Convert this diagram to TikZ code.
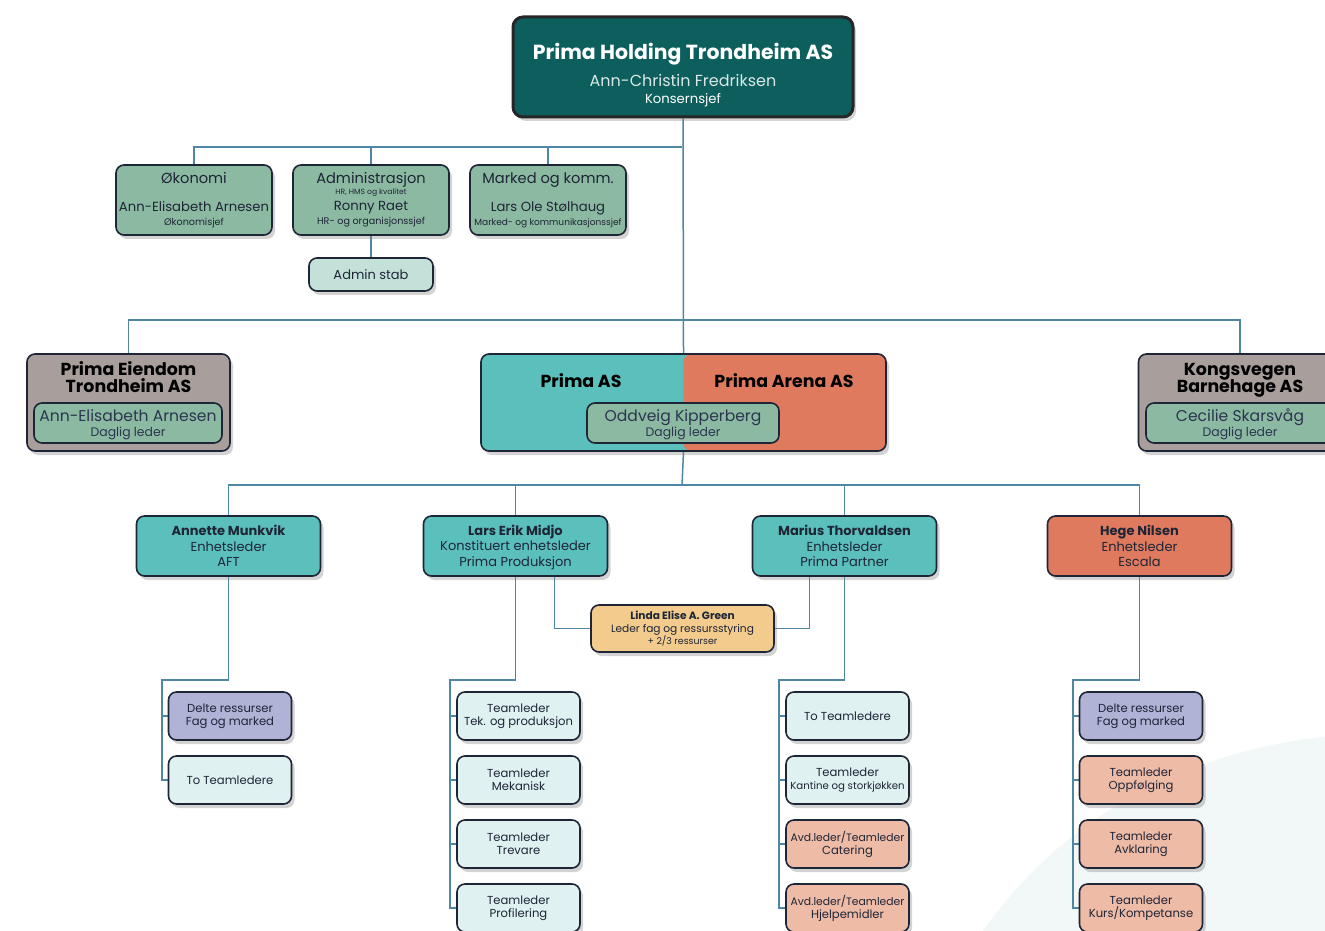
\documentclass[tikz,border=0pt]{standalone}
\usepackage{fontspec}
\setmainfont{Poppins}
\usetikzlibrary{shadows,backgrounds}

\definecolor{holdteal}{HTML}{0C5F5C}
\definecolor{sage}{HTML}{8CB9A1}
\definecolor{stabgreen}{HTML}{C3E1D9}
\definecolor{mauve}{HTML}{A89F9D}
\definecolor{primateal}{HTML}{5BBFBC}
\definecolor{coral}{HTML}{E07A5F}
\definecolor{sand}{HTML}{F2CB8D}
\definecolor{lavender}{HTML}{B0B2D6}
\definecolor{paleteal}{HTML}{DFF1F0}
\definecolor{peach}{HTML}{EEBBA6}
\definecolor{boxline}{HTML}{1E2537}
\definecolor{linkline}{HTML}{4F86A3}
\definecolor{ink}{HTML}{1E2537}
\definecolor{softink}{HTML}{2B3550}
\definecolor{bgwave}{HTML}{F1F8F7}

\newcommand{\fsz}[2]{\fontsize{#1}{#2}\selectfont\lineskiplimit=-20pt\relax}

\begin{document}
\begin{tikzpicture}[x=0.5pt,y=-0.5pt,
  plainbox/.style={draw=boxline,line width=0.8pt,rounded corners=4pt,align=center,inner sep=0pt,text=ink},
  box/.style={plainbox,drop shadow={shadow xshift=1.5pt,shadow yshift=-2pt,opacity=0.35}},
  dept/.style={box,fill=sage,minimum width=78pt,minimum height=35pt,font=\fsz{6.6}{7}},
  firm/.style={box,fill=mauve,minimum width=101.5pt,minimum height=48.5pt},
  firmtitle/.style={align=center,inner sep=0pt,text=black,font=\fsz{8.7}{8.5}\bfseries},
  leaderbox/.style={plainbox,fill=sage,minimum width=94pt,minimum height=20pt,text=softink,font=\fsz{7.8}{7.5}},
  unit/.style={box,minimum width=92pt,minimum height=30pt,font=\fsz{6.5}{7.75}},
  team/.style={box,minimum width=61.5pt,minimum height=24pt,font=\fsz{5.8}{6.5}},
  link/.style={draw=linkline,line width=0.75pt}]
\useasboundingbox (0,0) rectangle (1325,930);

\begin{pgfonlayer}{background}
 \fill[bgwave] (980,935) .. controls (1060,820) and (1180,752) .. (1330,736) -- (1330,935) -- cycle;
\end{pgfonlayer}

% konsern
\node[box,fill=holdteal,draw=black!85,line width=1.5pt,rounded corners=5pt,
  minimum width=170pt,minimum height=50pt,text=white,font=\fsz{8}{8.5}] (holding) at (683,67)
  {\rule{0pt}{16.5pt}{\fsz{10.2}{12}\bfseries Prima Holding Trondheim AS}\\[5pt]
   {\color{white!85!holdteal}\fsz{8}{9}Ann-Christin Fredriksen}\\
   {\fsz{6.6}{7}Konsernsjef}};

% stab
\node[dept] (okonomi) at (194,200)
  {{\fsz{7.3}{7}Økonomi}\\[7pt] Ann-Elisabeth Arnesen\\ {\fsz{4.8}{5}Økonomisjef}};
\node[dept] (admin) at (371,200)
  {{\fsz{7.3}{7}Administrasjon}\\[-1.5pt] {\fsz{3.8}{4}HR, HMS og kvalitet}\\[1pt] Ronny Raet\\ {\fsz{4.8}{5}HR- og organisjonssjef}};
\node[dept] (marked) at (548,200)
  {{\fsz{7.3}{7}Marked og komm.}\\[7pt] Lars Ole Stølhaug\\ {\fsz{4.5}{5}Marked- og kommunikasjonssjef}};
\node[box,fill=stabgreen,minimum width=62pt,minimum height=16.5pt,font=\fsz{6.5}{7}] (adminstab) at (371,274.5) {Admin stab};

% selskaper
\node[firm] (eiendom) at (128.5,402.5) {};
\node[firmtitle] (eiendomtitle) at (128.5,377.5) {Prima Eiendom\\Trondheim AS};
\node[leaderbox] (eiendomleder) at (128,423) {\rule{0pt}{7.8pt}Ann-Elisabeth Arnesen\\ {\fsz{6.2}{7}Daglig leder}};

\node[box,fill=primateal,minimum width=202.5pt,minimum height=48.5pt,
  path picture={\fill[coral] (path picture bounding box.north) rectangle (path picture bounding box.south east);}]
  (prima) at (683.5,402.5) {};
\node[firmtitle] (primatitle) at (581,381) {Prima AS};
\node[firmtitle] (arenatitle) at (784,381) {Prima Arena AS};
\node[leaderbox,minimum width=96pt] (primaleder) at (683,423) {\rule{0pt}{7.8pt}Oddveig Kipperberg\\ {\fsz{6.2}{7}Daglig leder}};

\node[firm] (kongsvegen) at (1240,402.5) {};
\node[firmtitle] (kongsvegentitle) at (1240,380.5) {Kongsvegen\\Barnehage AS};
\node[leaderbox] (kongsvegenleder) at (1240,423) {\rule{0pt}{7.8pt}Cecilie Skarsvåg\\ {\fsz{6.2}{7}Daglig leder}};

% enheter
\node[unit,fill=primateal] (annette) at (228.5,546) {{\bfseries Annette Munkvik}\\Enhetsleder\\AFT};
\node[unit,fill=primateal] (larserik) at (515.5,546) {\rule{0pt}{6.5pt}{\bfseries Lars Erik Midjo}\\Konstituert enhetsleder\\Prima Produksjon};
\node[unit,fill=primateal] (marius) at (844.5,546) {{\bfseries Marius Thorvaldsen}\\Enhetsleder\\Prima Partner};
\node[unit,fill=coral] (hege) at (1139.5,546) {{\bfseries Hege Nilsen}\\Enhetsleder\\Escala};

\node[box,fill=sand,minimum width=91.5pt,minimum height=23.5pt,font=\fsz{5.3}{6.8}] (linda) at (682.5,628.5)
  {{\bfseries Linda Elise A. Green}\\ Leder fag og ressursstyring\\[-0.8pt] {\fsz{4.7}{5}+ 2/3 ressurser}};

% team
\foreach \col/\txt [count=\i] in {lavender/{Delte ressurser\\Fag og marked}, paleteal/To Teamledere}
  \node[team,fill=\col] (aft\i) at (230,652+64*\i) {\txt};
\foreach \col/\txt [count=\i] in {paleteal/{Teamleder\\Tek. og produksjon}, paleteal/{Teamleder\\Mekanisk},
    paleteal/{Teamleder\\Trevare}, paleteal/{Teamleder\\Profilering}}
  \node[team,fill=\col] (prod\i) at (518.5,652+64*\i) {\txt};
\foreach \col/\txt [count=\i] in {paleteal/To Teamledere, paleteal/{Teamleder\\{\fsz{5.1}{6}Kantine og storkjøkken}},
    peach/{{\fsz{5.4}{6}Avd.leder/Teamleder}\\Catering}, peach/{{\fsz{5.4}{6}Avd.leder/Teamleder}\\Hjelpemidler}}
  \node[team,fill=\col] (partner\i) at (847.5,652+64*\i) {\txt};
\foreach \col/\txt [count=\i] in {lavender/{Delte ressurser\\Fag og marked}, peach/{Teamleder\\Oppfølging},
    peach/{Teamleder\\Avklaring}, peach/{Teamleder\\Kurs/Kompetanse}}
  \node[team,fill=\col] (escala\i) at (1141,652+64*\i) {\txt};

\coordinate (bus1) at (682,147);
\coordinate (bus2) at (682,320);
\coordinate (bus3) at (682,485);
\coordinate (aftbus) at (162,680);
\coordinate (prodbus) at (450,680);
\coordinate (partnerbus) at (779,680);
\coordinate (escalabus) at (1073,680);

\begin{pgfonlayer}{background}
 \draw[link] (holding.south) -- (prima.north);
 \draw[link] (prima.south) -- (bus3);
 \draw[link] (okonomi.north) |- (bus1);
 \draw[link] (admin.north) |- (bus1);
 \draw[link] (marked.north) |- (bus1);
 \draw[link] (admin.south) -- (adminstab.north);
 \draw[link] (eiendom.north) |- (bus2);
 \draw[link] (kongsvegen.north) |- (bus2);
 \foreach \u in {annette,larserik,marius,hege}
  \draw[link] (\u.north) |- (bus3);
 \draw[link] (linda.west) -| ([xshift=19.5pt]larserik.south);
 \draw[link] (linda.east) -| ([xshift=-17.5pt]marius.south);
 % kolonner
 \draw[link] (annette.south) |- (aftbus) |- (aft2.west);
 \draw[link] (aftbus) |- (aft1.west);
 \draw[link] (larserik.south) |- (prodbus) |- (prod4.west);
 \draw[link] (marius.south) |- (partnerbus) |- (partner4.west);
 \draw[link] (hege.south) |- (escalabus) |- (escala4.west);
 \foreach \i in {1,2,3} {
  \draw[link] (prodbus) |- (prod\i.west);
  \draw[link] (partnerbus) |- (partner\i.west);
  \draw[link] (escalabus) |- (escala\i.west);
 }
\end{pgfonlayer}

\end{tikzpicture}
\end{document}
